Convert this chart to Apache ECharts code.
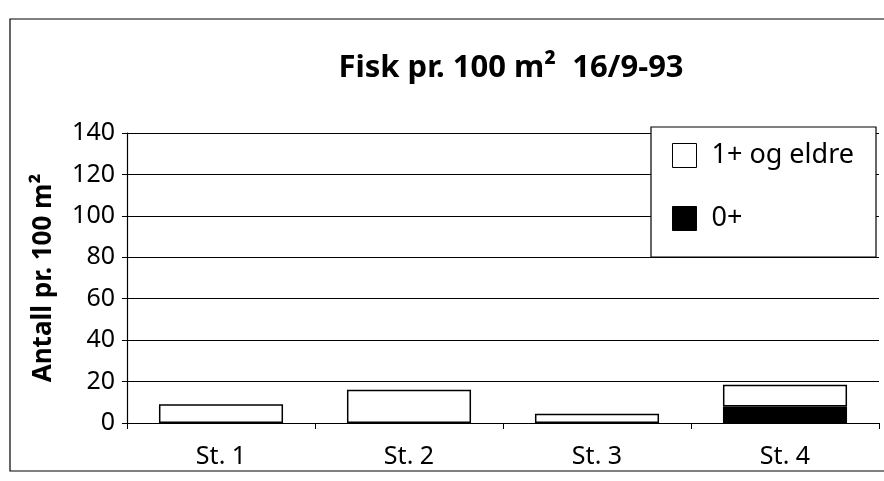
<!DOCTYPE html>
<html>
<head>
<meta charset="utf-8">
<script src="https://cdn.jsdelivr.net/npm/echarts@6/dist/echarts.min.js"></script>
<style>
html,body{margin:0;padding:0;background:#fff;}
#c{width:884px;height:481px;}
</style>
</head>
<body>
<div id="c"></div>
<script>
const categories = ['St. 1', 'St. 2', 'St. 3', 'St. 4'];
const seriesNames = ['1+ og eldre', '0+'];
const values0 = [0, 0, 0, 8];          // 0+
const values1 = [9, 16, 4.5, 10.5];    // 1+ og eldre
const yTicks = [0, 20, 40, 60, 80, 100, 120, 140];

const FONT = 'Noto Sans';
const chart = echarts.init(document.getElementById('c'));
chart.setOption({
  animation: false,
  backgroundColor: '#fff',
  title: {
    text: 'Fisk pr. 100 m\u00B2  16/9-93',
    left: 506, top: 48, textAlign: 'center',
    textStyle: {fontFamily: FONT, fontWeight: 'bold', fontSize: 31, color: '#000'}
  },
  graphic: [
    {type: 'rect', shape: {x: 10, y: 19, width: 900, height: 452}, style: {fill: 'none', stroke: '#000', lineWidth: 1.2}, z: -1},
    {type: 'rect', shape: {x: 651, y: 127, width: 225, height: 130}, style: {fill: '#fff', stroke: '#000', lineWidth: 1.2}, z: 5}
  ],
  legend: {
    orient: 'vertical',
    left: 672, top: 142,
    padding: 0,
    itemWidth: 24, itemHeight: 24, itemGap: 36,
    icon: 'rect',
    z: 10,
    data: [
      {name: seriesNames[0], itemStyle: {color: '#fff', borderColor: '#000', borderWidth: 1}},
      {name: seriesNames[1], itemStyle: {color: '#000', borderColor: '#000', borderWidth: 1}}
    ],
    textStyle: {fontFamily: FONT, fontSize: 27, color: '#000', padding: [0, 0, 0, 10]}
  },
  grid: {left: 127, right: 5, top: 133, bottom: 58},
  xAxis: {
    type: 'category',
    data: categories,
    axisLine: {lineStyle: {color: '#000', width: 1.2}},
    axisTick: {show: true, length: 6, lineStyle: {color: '#000'}},
    axisLabel: {fontFamily: FONT, fontSize: 25, color: '#000', margin: 21}
  },
  yAxis: {
    type: 'value',
    min: yTicks[0], max: yTicks[yTicks.length - 1], interval: 20,
    name: 'Antall pr. 100 m\u00B2',
    nameLocation: 'middle', nameGap: 70,
    nameTextStyle: {fontFamily: FONT, fontWeight: 'bold', fontSize: 26, color: '#000'},
    axisLine: {show: true, lineStyle: {color: '#000', width: 1.2}},
    axisTick: {show: true, length: 5, lineStyle: {color: '#000'}},
    axisLabel: {fontFamily: FONT, fontSize: 25, color: '#000', margin: 12},
    splitLine: {lineStyle: {color: '#000', width: 1.2}}
  },
  series: [
    {
      name: seriesNames[1], type: 'bar', stack: 'a', data: values0,
      barCategoryGap: '34%',
      itemStyle: {color: '#000', borderColor: '#000', borderWidth: 1.2}
    },
    {
      name: seriesNames[0], type: 'bar', stack: 'a', data: values1,
      barCategoryGap: '34%',
      itemStyle: {color: '#fff', borderColor: '#000', borderWidth: 1.5}
    }
  ]
});
</script>
</body>
</html>
